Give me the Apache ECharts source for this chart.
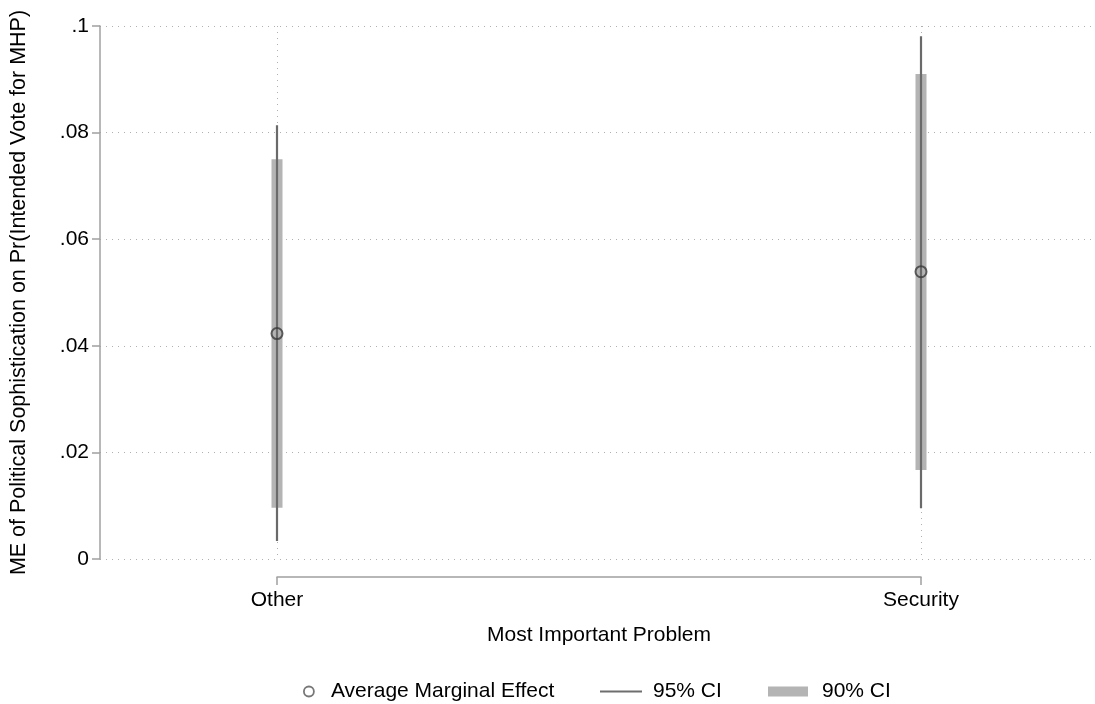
<!DOCTYPE html>
<html>
<head>
<meta charset="utf-8">
<script src="https://cdn.jsdelivr.net/npm/echarts@6/dist/echarts.min.js"></script>
<style>html,body{margin:0;padding:0;background:#fff}#c{width:1095px;height:704px}</style>
</head>
<body>
<div id="c"></div>
<script>
const categories = ['Other', 'Security'];
const ame = [0.0423, 0.0539];
const ci95Low = [0.0034, 0.0095];
const ci95High = [0.0814, 0.0981];
const ci90Low = [0.0096, 0.0167];
const ci90High = [0.0750, 0.0910];
const yTickLabels = ['0', '.02', '.04', '.06', '.08', '.1'];
const yTitle = 'ME of Political Sophistication on Pr(Intended Vote for MHP)';
const xTitle = 'Most Important Problem';
const seriesNames = ['Average Marginal Effect', '95% CI', '90% CI'];

const FONT = '"Liberation Sans", Arial, sans-serif';
const FS = 21;
const axisGray = '#a0a0a0';
const gridDots = { color: '#b0b0b0', width: 1, type: [1, 5] };

const pts = categories.map((c, i) => [i, ame[i]]);
const d95 = categories.map((c, i) => [i, ci95Low[i], ci95High[i]]);
const d90 = categories.map((c, i) => [i, ci90Low[i], ci90High[i]]);

const chart = echarts.init(document.getElementById('c'));
chart.setOption({
  animation: false,
  backgroundColor: '#fff',
  textStyle: { fontFamily: FONT },
  grid: [
    { left: 99, right: 4, top: 26, bottom: 145 },
    { left: 277, right: 174, top: 26, bottom: 145 }
  ],
  xAxis: [
    { gridIndex: 0, type: 'value', min: -0.276, max: 1.264, show: false },
    {
      gridIndex: 1, type: 'value', min: 0, max: 1, interval: 1, offset: 18,
      axisLine: { show: true, onZero: false, lineStyle: { color: axisGray, width: 1.5 } },
      axisTick: { show: true, length: 8, lineStyle: { color: axisGray, width: 1.5 } },
      axisLabel: { margin: 13, fontSize: FS, color: '#000', fontFamily: FONT,
        formatter: v => categories[Math.round(v)] },
      splitLine: { show: true, lineStyle: gridDots },
      name: xTitle, nameLocation: 'middle', nameGap: 48,
      nameTextStyle: { fontSize: FS, color: '#000', fontFamily: FONT }
    }
  ],
  yAxis: [
    {
      gridIndex: 0, type: 'value', min: 0, max: 0.1, interval: 0.02,
      axisLine: { show: true, onZero: false, lineStyle: { color: axisGray, width: 1.5 } },
      axisTick: { show: true, length: 8, lineStyle: { color: axisGray, width: 1.5 } },
      axisLabel: { margin: 11, fontSize: FS, color: '#000', fontFamily: FONT,
        formatter: v => yTickLabels[Math.round(v / 0.02)] },
      splitLine: { show: true, lineStyle: gridDots },
      name: yTitle, nameLocation: 'middle', nameGap: 70, nameRotate: 90,
      nameTextStyle: { fontSize: 21.5, color: '#000', fontFamily: FONT }
    },
    { gridIndex: 1, type: 'value', min: 0, max: 0.1, show: false }
  ],
  legend: [
    {
      left: 303, top: 681, padding: 0, itemWidth: 10, itemHeight: 10,
      textStyle: { fontSize: FS, color: '#000', fontFamily: FONT, padding: [0, 0, 0, 12] },
      data: [{ name: seriesNames[0], icon: 'circle',
        itemStyle: { color: 'rgba(0,0,0,0)', borderColor: '#555', borderWidth: 1.8 } }]
    },
    {
      left: 600, top: 681, padding: 0, itemWidth: 42, itemHeight: 2,
      textStyle: { fontSize: FS, color: '#000', fontFamily: FONT, padding: [0, 0, 0, 6] },
      data: [{ name: seriesNames[1], icon: 'rect', itemStyle: { color: '#6e6e6e' } }]
    },
    {
      left: 768, top: 681, padding: 0, itemWidth: 40, itemHeight: 10,
      textStyle: { fontSize: FS, color: '#000', fontFamily: FONT, padding: [0, 0, 0, 9] },
      data: [{ name: seriesNames[2], icon: 'rect', itemStyle: { color: '#b4b4b4' } }]
    }
  ],
  series: [
    {
      name: seriesNames[2], type: 'custom', xAxisIndex: 1, yAxisIndex: 1,
      data: d90, itemStyle: { color: '#b4b4b4' },
      renderItem: (params, api) => {
        const lo = api.coord([api.value(0), api.value(1)]);
        const hi = api.coord([api.value(0), api.value(2)]);
        return { type: 'rect', shape: { x: lo[0] - 5.5, y: hi[1], width: 11, height: lo[1] - hi[1] },
          style: { fill: '#b4b4b4' } };
      }
    },
    {
      name: seriesNames[1], type: 'custom', xAxisIndex: 1, yAxisIndex: 1,
      data: d95, itemStyle: { color: '#6e6e6e' },
      renderItem: (params, api) => {
        const lo = api.coord([api.value(0), api.value(1)]);
        const hi = api.coord([api.value(0), api.value(2)]);
        return { type: 'line', shape: { x1: lo[0], y1: lo[1], x2: hi[0], y2: hi[1] },
          style: { stroke: '#6a6a6a', lineWidth: 2.2 } };
      }
    },
    {
      name: seriesNames[0], type: 'scatter', xAxisIndex: 1, yAxisIndex: 1,
      data: pts, symbol: 'circle', symbolSize: 11, z: 5,
      itemStyle: { color: 'rgba(0,0,0,0)', borderColor: '#3a3a3a', borderWidth: 2 }
    }
  ]
});
</script>
</body>
</html>
